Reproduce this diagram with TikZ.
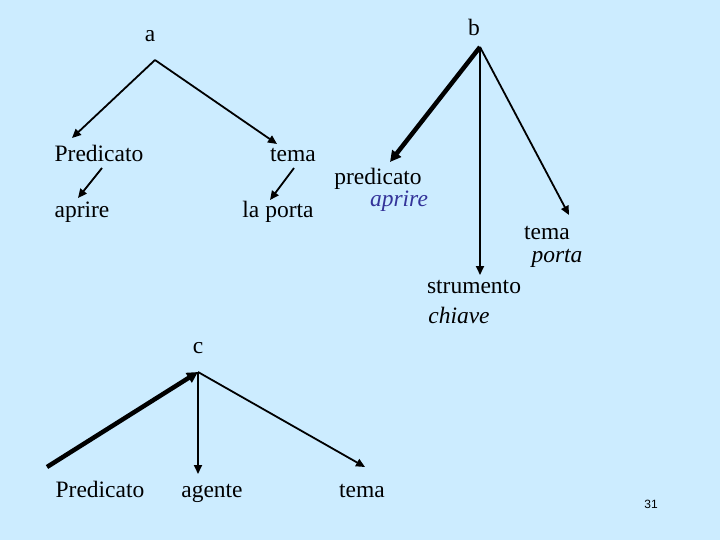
\documentclass[tikz,border=0pt]{standalone}
\usepackage{fontspec}
\setmainfont{Liberation Serif}
\newfontfamily\serfont{Liberation Serif}
\newfontfamily\numfont{Liberation Sans}
\usetikzlibrary{arrows.meta}
\definecolor{bgblue}{RGB}{204,236,255}
\definecolor{itblue}{RGB}{51,51,153}
\begin{document}
\begin{tikzpicture}[x=1pt,y=-1pt,
  lbl/.style={anchor=base,inner sep=0pt,font=\serfont\fontsize{23.5}{26}\selectfont},
  itlbl/.style={anchor=base,inner sep=0pt,font=\serfont\fontsize{23.5}{26}\selectfont\itshape},
  con/.style={line width=1.8pt,-{Triangle[length=9pt,width=8pt]}},
  thickcon/.style={line width=4.5pt,-{Triangle[length=11pt,width=11pt]}}]
\fill[bgblue] (0,0) rectangle (720,540);
\useasboundingbox (0,0) rectangle (720,540);
% tree a
\node[lbl] (a) at (150,42) {a};
\coordinate (ra) at (155,60);
\node[lbl] (pa) at (99,162) {Predicato};
\node[lbl] (ta) at (293,162) {tema};
\node[lbl] (apa) at (82,218) {aprire};
\node[lbl] (lpa) at (278,218) {la porta};
\coordinate (pat) at (72,138);
\coordinate (tat) at (277,144);
\coordinate (pas) at (102,168);
\coordinate (apt) at (78,198);
\coordinate (tas) at (294,168);
\coordinate (lpt) at (270,200);
\draw[con] (ra) -- (pat);
\draw[con] (ra) -- (tat);
\draw[con] (pas) -- (apt);
\draw[con] (tas) -- (lpt);
% tree b
\node[lbl] (b) at (474,36) {b};
\coordinate (rb) at (480,47);
\node[lbl] (pb) at (378,185) {predicato};
\node[itlbl,text=itblue] (apb) at (399,207) {aprire};
\node[lbl] (tb) at (547,240) {tema};
\node[itlbl] (porb) at (557,262) {porta};
\node[lbl] (sb) at (474,293) {strumento};
\node[itlbl] (chb) at (459,323) {chiave};
\coordinate (pbt) at (390,162);
\coordinate (sbt) at (480,275);
\coordinate (tbt) at (569,215);
\draw[thickcon] (rb) -- (pbt);
\draw[con] (rb) -- (sbt);
\draw[con] (rb) -- (tbt);
% tree c
\node[lbl] (c) at (198,353) {c};
\coordinate (rc) at (198,372);
\node[lbl] (pc) at (100,497) {Predicato};
\node[lbl] (ac) at (212,497) {agente};
\node[lbl] (tc) at (362,497) {tema};
\coordinate (pcs) at (47,467);
\coordinate (act) at (198,474);
\coordinate (tct) at (365,467);
\draw[thickcon] (pcs) -- (rc);
\draw[con] (rc) -- (act);
\draw[con] (rc) -- (tct);
% page number
\node[anchor=base,inner sep=0pt,font=\numfont\fontsize{12}{14}\selectfont] (num) at (651,508) {31};
\end{tikzpicture}
\end{document}
